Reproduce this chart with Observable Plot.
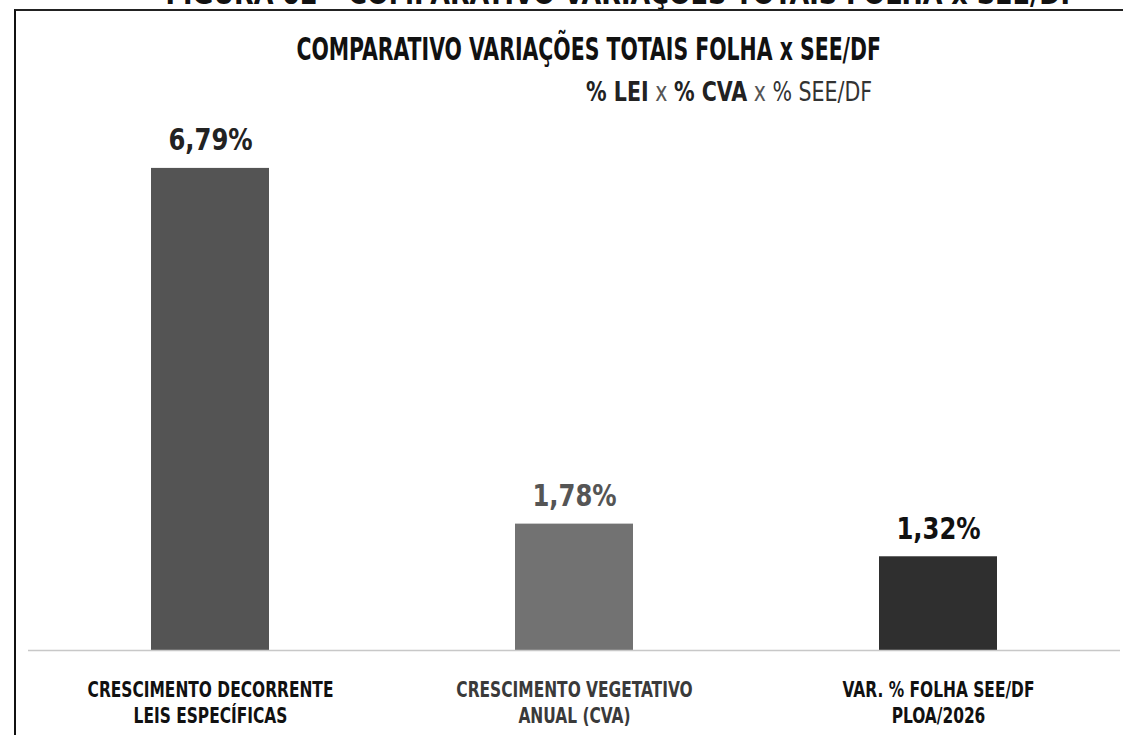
<!DOCTYPE html>
<html>
<head>
<meta charset="utf-8">
<script src="https://cdn.jsdelivr.net/npm/d3@7"></script>
<script src="https://cdn.jsdelivr.net/npm/@observablehq/plot@0.6"></script>
<style>
  html, body { margin: 0; padding: 0; background: #fff; }
  #wrap { position: relative; width: 1123px; height: 735px; overflow: hidden; background: #fff;
          font-family: "DejaVu Sans", sans-serif; font-stretch: condensed; }
  #wrap svg { position: absolute; left: 0; top: 0; }
  .line { position: absolute; left: 0; width: 1123px; text-align: center; white-space: nowrap; }
  .line > span { display: inline-block; }
  #header { top: -24px; font-size: 30px; font-weight: bold; color: #111; }
  #header > span { transform: scaleX(0.945); transform-origin: center; margin-left: 120px; }
  #frame { position: absolute; left: 14px; top: 9px; width: 1200px; height: 800px;
           border-left: 2px solid #111; border-top: 2px solid #222; }
  #title { top: 30px; font-size: 32px; font-weight: bold; color: #111; }
  #title > span { transform: scaleX(0.71); transform-origin: center; margin-left: 54px; }
  #subtitle { position: absolute; left: 0; width: 872px; top: 77px; text-align: right; white-space: nowrap;
              font-size: 26px; color: #333; }
  #subtitle > span { display: inline-block; transform: scaleX(0.88); transform-origin: right center; }
  #subtitle b { color: #222; }
  #subtitle span.x { font-weight: normal; color: #555; }
</style>
</head>
<body>
<div id="wrap">
  <div id="header" class="line"><span>FIGURA 02 – COMPARATIVO VARIAÇÕES TOTAIS FOLHA x SEE/DF</span></div>
  <div id="frame"></div>
  <div id="chart"></div>
  <div id="title" class="line"><span>COMPARATIVO VARIAÇÕES TOTAIS FOLHA x SEE/DF</span></div>
  <div id="subtitle"><span><b>% LEI</b> <span class="x">x</span> <b>% CVA</b> <span class="x">x</span> % SEE/DF</span></div>
</div>
<script>
const categories = [
  "CRESCIMENTO DECORRENTE\nLEIS ESPECÍFICAS",
  "CRESCIMENTO VEGETATIVO\nANUAL (CVA)",
  "VAR. % FOLHA SEE/DF\nPLOA/2026"
];
const values = [6.79, 1.78, 1.32];
const valueLabels = ["6,79%", "1,78%", "1,32%"];
const barColors = ["#545454", "#727272", "#2f2f2f"];
const valueColors = ["#222222", "#555555", "#111111"];
const catColors = ["#111111", "#3a3a3a", "#111111"];

const data = categories.map((c, i) => ({
  cat: c, value: values[i], label: valueLabels[i],
  bar: barColors[i], vcol: valueColors[i], ccol: catColors[i]
}));

const chart = Plot.plot({
  width: 1123,
  height: 735,
  marginTop: 153,
  marginBottom: 85,
  marginLeft: 28,
  marginRight: 3,
  style: { background: "transparent", fontFamily: "'DejaVu Sans', sans-serif" },
  x: { domain: categories, paddingInner: 0.676, paddingOuter: 0.338, axis: null },
  y: { domain: [0, 7], axis: null },
  marks: [
    Plot.barY(data, { x: "cat", y: "value", fill: d => d.bar }),
    Plot.ruleY([0], { stroke: "#c8c8c8", strokeWidth: 1.5 }),
    Plot.text(data, { x: "cat", y: "value", text: "label", dy: -18, lineAnchor: "bottom",
      fill: d => d.vcol, fontSize: 30, fontWeight: "bold", className: "val-label" }),
    Plot.text(data, { x: "cat", y: 0, text: "cat", dy: 29, lineAnchor: "top", lineHeight: 1.15,
      fill: d => d.ccol, fontSize: 22, fontWeight: "bold", className: "cat-label" })
  ]
});
// condense the label glyphs horizontally (the reference uses a narrow typeface)
chart.querySelectorAll(".cat-label text").forEach(t => {
  t.setAttribute("transform", (t.getAttribute("transform") || "") + " scale(0.78,1)");
});
chart.querySelectorAll(".val-label text").forEach(t => {
  t.setAttribute("transform", (t.getAttribute("transform") || "") + " scale(0.9,1)");
});
document.getElementById("chart").appendChild(chart);
</script>
</body>
</html>
